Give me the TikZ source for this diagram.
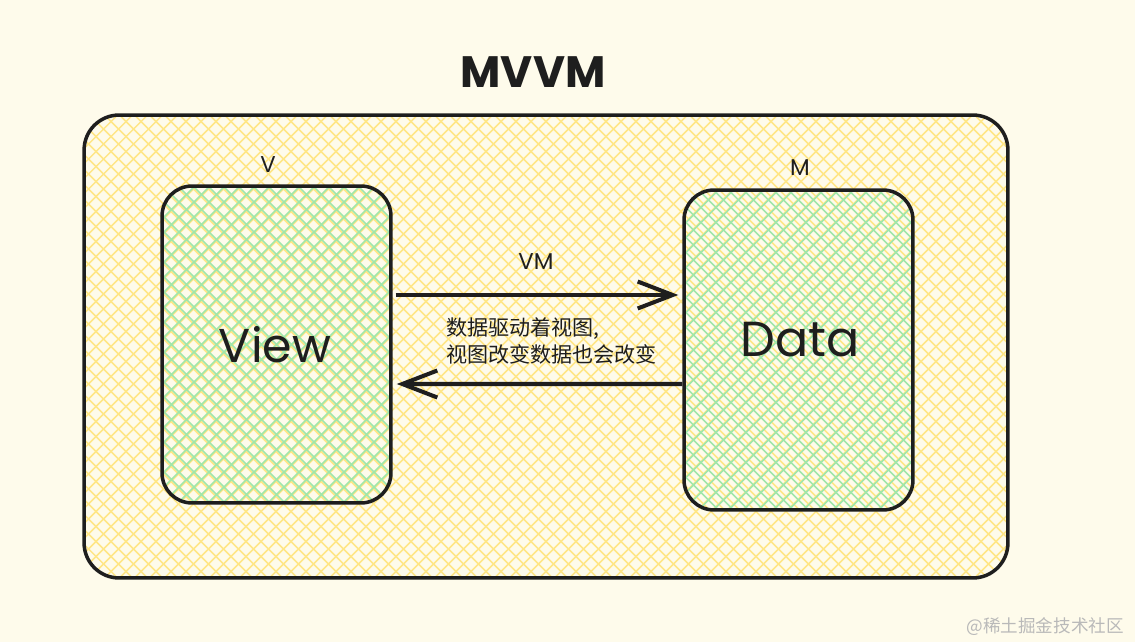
\documentclass[tikz,border=0pt]{standalone}
\usepackage{fontspec}
\setmainfont{Poppins}
\newfontfamily\cjk{Noto Sans CJK SC}
\usetikzlibrary{arrows.meta,calc}
\definecolor{bg}{RGB}{254,251,235}
\definecolor{ink}{RGB}{30,30,30}
\definecolor{hyellow}{RGB}{255,230,135}
\definecolor{hgreen}{RGB}{160,230,170}
\definecolor{wm}{RGB}{185,185,185}
\tikzset{
  hatch/.style={path picture={
    \foreach \k in {-50,...,50}{
      \draw[#1,line width=0.9pt] ($(path picture bounding box.center)+(\k*0.3cm-6cm,-6cm)$) -- ++(12cm,12cm);
      \draw[#1,line width=0.9pt] ($(path picture bounding box.center)+(\k*0.3cm+6cm,-6cm)$) -- ++(-12cm,12cm);
    }}},
  box/.style={draw=ink,line width=2pt,rounded corners=0.6cm,inner sep=0pt},
  arr/.style={draw=ink,line width=2.3pt,-{Straight Barb[length=7mm,width=5.4mm,line width=2.3pt]}},
  hand/.style={text=ink,font=\fontsize{#1}{#1}\selectfont},
}
\begin{document}
\begin{tikzpicture}[x=0.02cm,y=-0.02cm]
\fill[bg] (0,0) rectangle (1135,642);
\useasboundingbox (0,0) rectangle (1135,642);
\node[box,rounded corners=0.7cm,hatch=hyellow,minimum width=18.48cm,minimum height=9.26cm] (outer) at (546,346.5) {};
\node[box,hatch=hgreen,minimum width=4.58cm,minimum height=6.34cm] (V) at (276.5,344.5) {};
\node[box,hatch=hgreen,minimum width=4.58cm,minimum height=6.4cm] (M) at (798.5,350) {};
\node[text=ink,font={\bfseries\fontsize{25}{25}\selectfont}] (title) at (533,72) {MVVM};
\node[hand=13] (vlab) at (268,165) {V};
\node[hand=13] (mlab) at (800,168) {M};
\node[hand=13] (vmlab) at (536,262) {VM};
\node[hand=27] (view) at (275,345) {View};
\node[hand=28] (data) at (800,340) {Data};
\draw[arr] ($(V.east)+(3,-49.5)$) -- ($(M.west)+(-4,-55)$);
\draw[arr] ($(M.west)+(0,34)$) -- ($(V.east)+(4,39.5)$);
\node[anchor=west,align=left,text=ink,font=\cjk\fontsize{12}{15.3}\selectfont] (desc) at (440,341) {数据驱动着视图,\\视图改变数据也会改变};
\node[anchor=east,text=wm,font=\cjk\fontsize{10}{12}\selectfont] (wmark) at (1130,627) {@稀土掘金技术社区};
\end{tikzpicture}
\end{document}
